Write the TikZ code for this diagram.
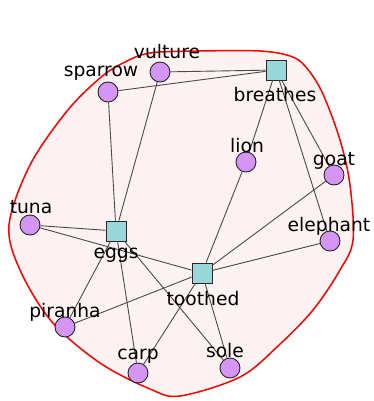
\documentclass[tikz,border=0pt]{standalone}
\usepackage{fontspec}
\setmainfont{DejaVu Sans}
\usepackage{tikz}
\definecolor{animalcolor}{HTML}{D495F4}
\definecolor{traitcolor}{HTML}{98D8D8}
\definecolor{blobcolor}{HTML}{FDF2F2}
\definecolor{edgecolor}{HTML}{4A4A4A}
\tikzstyle{animal} = [
    circle,
    draw=black!85,
    fill=animalcolor,
    line width=0.9pt,
    minimum size=20pt,
    inner sep=0pt
    ]
\tikzstyle{trait} = [
    rectangle,
    draw=black!85,
    fill=traitcolor,
    line width=0.9pt,
    minimum size=20pt,
    inner sep=0pt
    ]
\tikzstyle{tag} = [
    anchor=base,
    inner sep=0pt,
    font=\fontsize{18.7}{20}\selectfont
    ]
\tikzstyle{link} = [draw=edgecolor, line width=0.9pt]

\begin{document}
\begin{tikzpicture}[x=1pt, y=-1pt]
\useasboundingbox (0,0) rectangle (373,401);

% hull round everything
\draw[red, line width=1.5pt, fill=blobcolor] plot[smooth cycle, tension=0.55] coordinates {
    (123,63) (150,53) (200,51) (260,51) (290,56) (305,66) (322,92)
    (340,140) (350,185) (353,240) (340,270) (313,310) (278,346)
    (240,377) (180,396) (150,389) (100,363) (52,322) (20,270)
    (9,225) (30,165) (67,111) (100,78)};

% traits
\node[trait] (breathes) at (276,70) {};
\node[trait] (eggs) at (116,231) {};
\node[trait] (toothed) at (202,273) {};

% animals
\node[animal] (vulture) at (160,72) {};
\node[animal] (sparrow) at (108,92) {};
\node[animal] (lion) at (246,162) {};
\node[animal] (goat) at (334,175) {};
\node[animal] (tuna) at (30,225) {};
\node[animal] (elephant) at (330,241) {};
\node[animal] (piranha) at (65,327) {};
\node[animal] (carp) at (138,373) {};
\node[animal] (sole) at (230,368) {};

% edges
\draw[link] (vulture) -- (breathes);
\draw[link] (sparrow) -- (breathes);
\draw[link] (lion) -- (breathes);
\draw[link] (goat) -- (breathes);
\draw[link] (elephant) -- (breathes);
\draw[link] (sparrow) -- (eggs);
\draw[link] (vulture) -- (eggs);
\draw[link] (tuna) -- (eggs);
\draw[link] (piranha) -- (eggs);
\draw[link] (carp) -- (eggs);
\draw[link] (sole) -- (eggs);
\draw[link] (lion) -- (toothed);
\draw[link] (goat) -- (toothed);
\draw[link] (elephant) -- (toothed);
\draw[link] (tuna) -- (toothed);
\draw[link] (piranha) -- (toothed);
\draw[link] (carp) -- (toothed);
\draw[link] (sole) -- (toothed);

% labels
\node[tag] (vulture-tag) at (167,59) {vulture};
\node[tag] (sparrow-tag) at (101,77) {sparrow};
\node[tag] (breathes-tag) at (275,102) {breathes};
\node[tag] (lion-tag) at (247,152) {lion};
\node[tag] (goat-tag) at (334,165) {goat};
\node[tag] (tuna-tag) at (31,213) {tuna};
\node[tag] (eggs-tag) at (116,258) {eggs};
\node[tag] (elephant-tag) at (329,231) {elephant};
\node[tag] (toothed-tag) at (203,305) {toothed};
\node[tag] (piranha-tag) at (65,317) {piranha};
\node[tag] (carp-tag) at (138,359) {carp};
\node[tag] (sole-tag) at (225,357) {sole};
\end{tikzpicture}
\end{document}
